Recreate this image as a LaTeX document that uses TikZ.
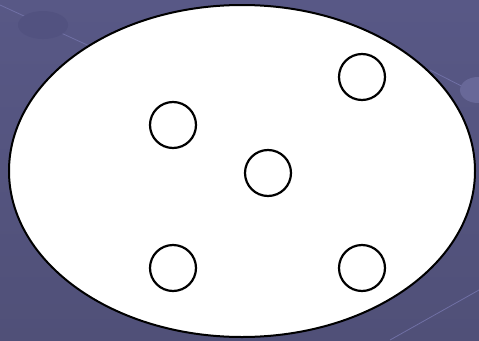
\documentclass[tikz,border=0pt]{standalone}
\usepackage{tikz}
\usetikzlibrary{shapes.geometric}
\definecolor{slidebg}{RGB}{88, 88, 134}
\definecolor{slidebgdark}{RGB}{80, 80, 120}
\definecolor{slideline}{RGB}{112, 112, 165}
\definecolor{slideorb}{RGB}{82, 82, 128}
\definecolor{slideorblight}{RGB}{104, 104, 152}

\begin{document}
\begin{tikzpicture}[
    x=1pt, y=-1pt,
    setbox/.style={ellipse, draw=black, line width=2pt, fill=white, minimum width=466pt, minimum height=332pt, inner sep=0pt},
    element/.style={circle, draw=black, line width=2.2pt, fill=white, minimum size=46pt, inner sep=0pt}
]
% Background
\useasboundingbox (0,0) rectangle (479,340);
\shade[top color=slidebg, bottom color=slidebgdark] (0,0) rectangle (479,340);
\draw[slideline, line width=0.8pt] (0,5) -- (120,60);
\draw[slideline, line width=0.8pt] (430,70) -- (479,95);
\draw[slideline, line width=0.8pt] (390,340) -- (479,290);
\fill[slideorb] (43,25) ellipse (25pt and 14pt);
\fill[slideorblight] (478,90) ellipse (18pt and 13pt);

% The set
\node[setbox] (set) at (242,171) {};

% Elements
\node[element] (e1) at (173,125) {};
\node[element] (e2) at (268,173) {};
\node[element] (e3) at (362,77) {};
\node[element] (e4) at (173,268) {};
\node[element] (e5) at (362,268) {};
\end{tikzpicture}
\end{document}
